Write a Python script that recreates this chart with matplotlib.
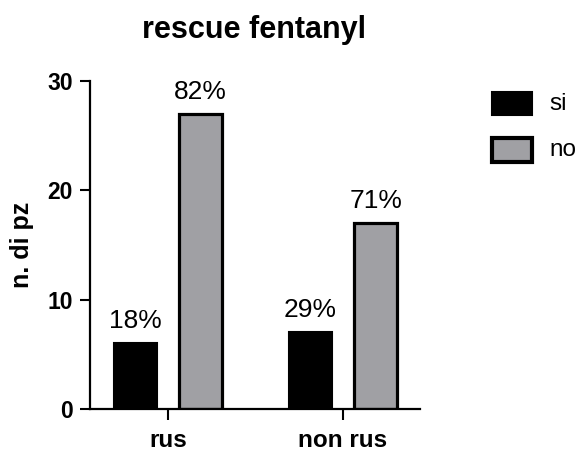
import matplotlib
matplotlib.use("Agg")
import matplotlib.pyplot as plt
import numpy as np
from matplotlib.patches import Rectangle

plt.rcParams["font.family"] = ["Liberation Sans", "DejaVu Sans"]

categories = ["rus", "non rus"]
series_names = ["si", "no"]
si_counts = [6, 7]
no_counts = [27, 17]
si_pct = ["18%", "29%"]
no_pct = ["82%", "71%"]

GRAY = "#a0a0a4"
W, H = 579, 453

fig = plt.figure(figsize=(W / 100, H / 100), dpi=100)
ax = fig.add_axes([90 / W, 1 - 409 / H, 330 / W, 328 / H])

x = np.arange(len(categories))
w = 0.245
off = 0.187

b1 = ax.bar(x - off, si_counts, w, color="black", edgecolor="black", linewidth=1.5)
b2 = ax.bar(x + off, no_counts, w, color=GRAY, edgecolor="black", linewidth=2.3)

for bars, labels in ((b1, si_pct), (b2, no_pct)):
    for rect, lab in zip(bars, labels):
        ax.annotate(lab, (rect.get_x() + rect.get_width() / 2, rect.get_height()),
                    xytext=(0, 11), textcoords="offset points",
                    ha="center", va="baseline", fontsize=19)

ax.set_xlim(-0.446, 1.44)
ax.set_ylim(0, 30)
ax.set_yticks([0, 10, 20, 30])
ax.set_xticks(x)
ax.set_xticklabels(categories, fontsize=17.5, fontweight="bold")
ax.tick_params(axis="y", labelsize=16.5, width=1.5, length=7.5, pad=5)
ax.tick_params(axis="x", width=1.5, length=8, pad=6.5)
for lbl in ax.get_yticklabels():
    lbl.set_fontweight("bold")

for side in ["top", "right"]:
    ax.spines[side].set_visible(False)
for side in ["left", "bottom"]:
    ax.spines[side].set_linewidth(1.6)

fig.text(22 / W, 1 - 245 / H, "n. di pz", rotation=90, ha="center", va="center",
         fontsize=18, fontweight="bold")
fig.text(254 / W, 1 - 30 / H, "rescue fentanyl", ha="center", va="center",
         fontsize=22, fontweight="bold")

# legend boxes drawn in figure pixels
legend_rows = [(92, 115, "black", 1.5), (138, 162, GRAY, 3.0)]
for (top, bot, fc, lw), name in zip(legend_rows, series_names):
    fig.add_artist(Rectangle((492 / W, 1 - bot / H), 40 / W, (bot - top) / H,
                             transform=fig.transFigure, facecolor=fc,
                             edgecolor="black", linewidth=lw))
    fig.text(549 / W, 1 - (top + bot) / 2 / H, name, ha="left", va="center",
             fontsize=17.5)

fig.savefig("out.png", dpi=100, facecolor="white")
